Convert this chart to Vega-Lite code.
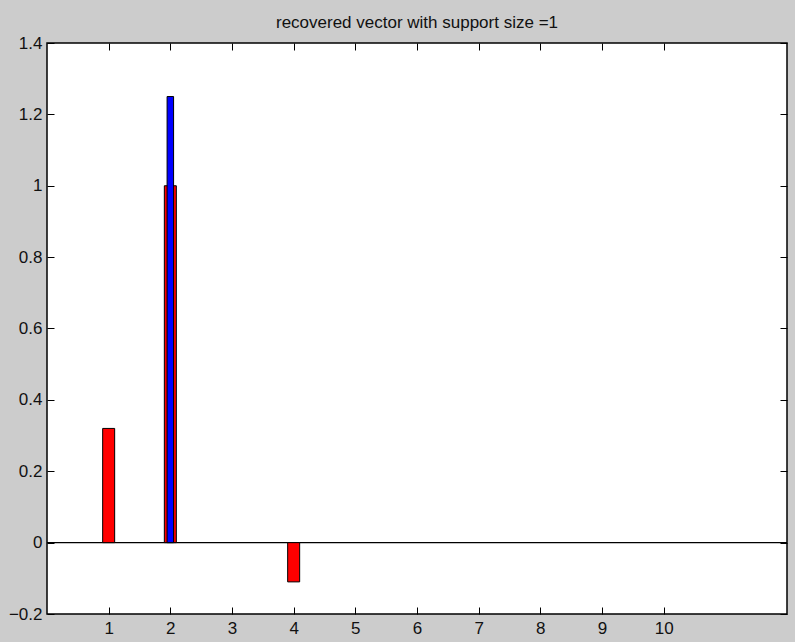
{
  "$schema": "https://vega.github.io/schema/vega-lite/v6.json",
  "autosize": {"type": "none"},
  "width": 740,
  "height": 571,
  "padding": {"left": 47, "top": 43, "right": 8, "bottom": 28},
  "background": "#cccccc",
  "title": {"text": "recovered vector with support size =1", "font": "Liberation Sans", "fontSize": 17, "fontWeight": "normal", "color": "#111111", "offset": 2, "anchor": "middle"},
  "config": {
    "view": {"fill": "#ffffff", "stroke": "#000000", "strokeWidth": 1.5},
    "axis": {"grid": false, "domain": false, "tickColor": "#000000", "tickSize": -7, "tickWidth": 1, "labelFont": "Liberation Sans", "labelFontSize": 17, "labelColor": "#111111", "title": null}
  },
  "datasets": {
    "recovered": [
      {"index": 1, "value": 0.32},
      {"index": 2, "value": 1.0},
      {"index": 4, "value": -0.11}
    ],
    "original": [
      {"index": 2, "value": 1.25}
    ]
  },
  "layer": [
    {
      "data": {"values": [{"baseline": 0}]},
      "mark": {"type": "rule", "color": "#000000", "strokeWidth": 1.2},
      "encoding": {"y": {"field": "baseline", "type": "quantitative", "axis": null}}
    },
    {
      "data": {"name": "recovered"},
      "mark": {"type": "bar", "size": 12, "fill": "#ff0000", "stroke": "#000000", "strokeWidth": 1},
      "encoding": {
        "x": {"field": "index", "type": "quantitative", "scale": {"domain": [0, 12], "nice": false, "zero": false, "padding": 0},
              "axis": {"orient": "bottom", "values": [1,2,3,4,5,6,7,8,9,10], "labelPadding": 13, "format": "d"}},
        "y": {"field": "value", "type": "quantitative", "scale": {"domain": [-0.2, 1.4], "nice": false},
              "axis": {"orient": "left", "values": [-0.2,0,0.2,0.4,0.6,0.8,1,1.2,1.4], "format": "~g", "labelPadding": 12}}
      }
    },
    {
      "data": {"name": "original"},
      "mark": {"type": "bar", "size": 6.5, "fill": "#0000ff", "stroke": "#000000", "strokeWidth": 1},
      "encoding": {
        "x": {"field": "index", "type": "quantitative", "axis": {"orient": "top", "values": [1,2,3,4,5,6,7,8,9,10], "labels": false}},
        "y": {"field": "value", "type": "quantitative", "axis": {"orient": "right", "values": [-0.2,0,0.2,0.4,0.6,0.8,1,1.2,1.4], "labels": false}}
      }
    }
  ],
  "resolve": {"axis": {"x": "independent", "y": "independent"}}
}
